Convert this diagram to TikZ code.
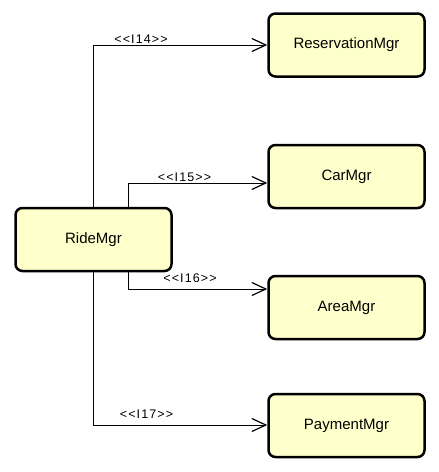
\documentclass[tikz,border=0pt]{standalone}
\usepackage{fontspec}
\setmainfont{Liberation Sans}
\usetikzlibrary{arrows.meta}
\definecolor{boxfill}{RGB}{255,255,204}
\tikzset{
  x=1pt, y=-1pt,
  comp/.style={draw=black, line width=2.5pt, fill=boxfill, rounded corners=7pt,
    minimum width=156pt, minimum height=63pt, inner sep=0pt,
    font=\fontsize{15}{18}\selectfont},
  dep/.style={draw=black, line width=1pt, -{Straight Barb[length=14pt,width=13pt,line width=1.2pt]}},
  lbl/.style={inner sep=0pt, anchor=base, font=\fontsize{12.5}{14}\selectfont\addfontfeature{LetterSpace=9}}
}
\begin{document}
\begin{tikzpicture}
\useasboundingbox (0,0) rectangle (439,472);
\node[comp] (ride) at (93.5,239.5) {RideMgr};
\node[comp] (res) at (346.5,45) {ReservationMgr};
\node[comp] (car) at (346.5,176.5) {CarMgr};
\node[comp] (area) at (346.5,307.5) {AreaMgr};
\node[comp] (pay) at (346.5,425.5) {PaymentMgr};
\coordinate (c1) at (93,45);
\coordinate (c2) at (128,183);
\coordinate (c3) at (128,289);
\coordinate (c4) at (93,425);
\draw[dep] (ride.north -| c1) -- (c1) -- (c1 -| res.west);
\draw[dep] (ride.north -| c2) -- (c2) -- (c2 -| car.west);
\draw[dep] (ride.south -| c3) -- (c3) -- (c3 -| area.west);
\draw[dep] (ride.south -| c4) -- (c4) -- (c4 -| pay.west);
\node[lbl] (l14) at (141,43) {\textless{}\textless{}I14\textgreater{}\textgreater};
\node[lbl] (l15) at (184.5,181) {\textless{}\textless{}I15\textgreater{}\textgreater};
\node[lbl] (l16) at (190,282) {\textless{}\textless{}I16\textgreater{}\textgreater};
\node[lbl] (l17) at (146.5,418) {\textless{}\textless{}I17\textgreater{}\textgreater};
\end{tikzpicture}
\end{document}
